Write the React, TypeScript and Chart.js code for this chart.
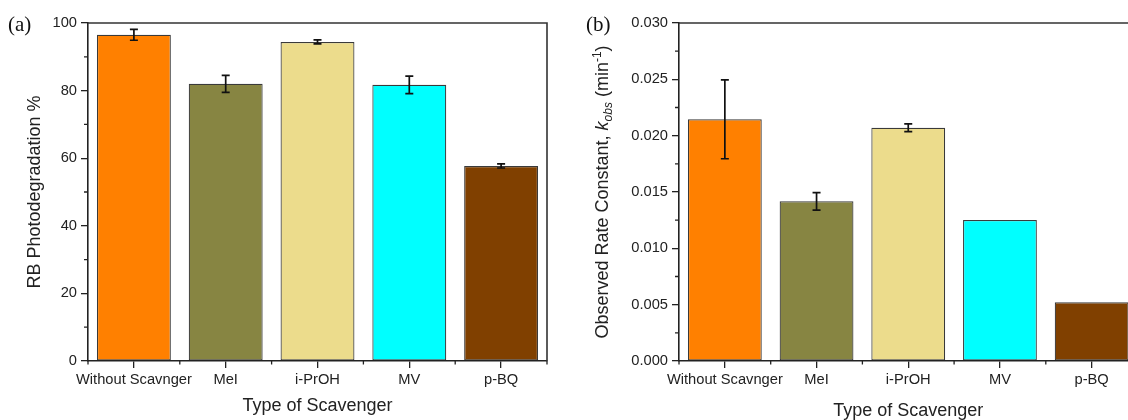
import React, { useEffect, useRef } from 'react';
import { Chart, registerables } from 'chart.js';

Chart.register(...registerables);

// ---------- data ----------
const categories = ['Without Scavnger', 'MeI', 'i-PrOH', 'MV', 'p-BQ'];
const barColors = ['#FF8000', '#878542', '#ECDC8C', '#00FFFF', '#804000'];

const degradation = [96.5, 82.0, 94.4, 81.7, 57.7];
const degradationErr = [1.6, 2.5, 0.6, 2.6, 0.6];
const degradationTicks = [0, 20, 40, 60, 80, 100];
const degradationMinorTicks = [10, 30, 50, 70, 90];

const rateConstant = [0.02145, 0.01417, 0.0207, 0.01251, 0.00521];
const rateConstantErr = [0.0035, 0.00077, 0.00035, 0, 0];
const rateTicks = [0, 0.005, 0.01, 0.015, 0.02, 0.025, 0.03];
const rateMinorTicks = [0.0025, 0.0075, 0.0125, 0.0175, 0.0225, 0.0275];

// ---------- styling ----------
const SANS = "'Liberation Sans', Arial, Helvetica, sans-serif";
const SERIF = "'Liberation Serif', 'Times New Roman', serif";
const INK = '#222';
const H = 420;

type Seg = { t: string; size: number; italic?: boolean; dy?: number };

function segFont(s: Seg) {
  return `${s.italic ? 'italic ' : ''}${s.size}px ${SANS}`;
}

function drawRich(ctx: CanvasRenderingContext2D, segs: Seg[], cx: number, cy: number, rotate: boolean) {
  ctx.save();
  ctx.translate(cx, cy);
  if (rotate) ctx.rotate(-Math.PI / 2);
  ctx.textBaseline = 'alphabetic';
  ctx.textAlign = 'left';
  ctx.fillStyle = INK;
  let total = 0;
  const widths = segs.map((s) => {
    ctx.font = segFont(s);
    const w = ctx.measureText(s.t).width;
    total += w;
    return w;
  });
  let x = -total / 2;
  segs.forEach((s, i) => {
    ctx.font = segFont(s);
    ctx.fillText(s.t, x, 6.45 + (s.dy || 0));
    x += widths[i];
  });
  ctx.restore();
}

interface PanelOpts {
  values: number[];
  err: number[];
  min: number;
  max: number;
  ticks: number[];
  minor: number[];
  fmt: (v: number) => string;
  axisW: number;
  padRight: number;
  letter: string;
  letterX: number;
  yTitle: Seg[];
  yTitleX: number;
  xTitleY: number;
}

function decor(o: PanelOpts) {
  return {
    id: 'panelDecor',
    afterDraw(chart: any) {
      const { ctx, chartArea: a, scales } = chart;
      const xs = scales.x;
      const ys = scales.y;
      ctx.save();
      // frame (top + right)
      ctx.strokeStyle = '#333';
      ctx.lineWidth = 1.6;
      ctx.beginPath();
      ctx.moveTo(a.left, a.top);
      ctx.lineTo(a.right, a.top);
      ctx.lineTo(a.right, a.bottom);
      ctx.stroke();

      // minor ticks
      ctx.strokeStyle = INK;
      ctx.lineWidth = 1.3;
      ctx.beginPath();
      o.minor.forEach((v) => {
        const py = ys.getPixelForValue(v);
        ctx.moveTo(a.left - 4, py);
        ctx.lineTo(a.left, py);
      });
      const step = xs.getPixelForValue(1) - xs.getPixelForValue(0);
      for (let k = 0; k <= categories.length; k++) {
        const px = xs.getPixelForValue(0) - step / 2 + k * step;
        ctx.moveTo(px, a.bottom);
        ctx.lineTo(px, a.bottom + 3.5);
      }
      ctx.stroke();

      // error bars
      const meta = chart.getDatasetMeta(0);
      ctx.strokeStyle = '#111';
      ctx.lineWidth = 1.7;
      ctx.beginPath();
      meta.data.forEach((bar: any, i: number) => {
        const e = o.err[i];
        if (!e) return;
        const top = ys.getPixelForValue(o.values[i] + e);
        const bot = ys.getPixelForValue(o.values[i] - e);
        const cap = 4;
        ctx.moveTo(bar.x, top);
        ctx.lineTo(bar.x, bot);
        ctx.moveTo(bar.x - cap, top);
        ctx.lineTo(bar.x + cap, top);
        ctx.moveTo(bar.x - cap, bot);
        ctx.lineTo(bar.x + cap, bot);
      });
      ctx.stroke();

      // panel letter
      ctx.fillStyle = '#111';
      ctx.font = `21px ${SERIF}`;
      ctx.textAlign = 'left';
      ctx.textBaseline = 'middle';
      ctx.fillText(o.letter, o.letterX, 25);
      ctx.restore();

      // titles
      drawRich(ctx, o.yTitle, o.yTitleX, (a.top + a.bottom) / 2, true);
      drawRich(ctx, [{ t: 'Type of Scavenger', size: 18 }], (a.left + a.right) / 2, o.xTitleY, false);
    },
  };
}

function makeChart(canvas: HTMLCanvasElement, o: PanelOpts) {
  const tickFont = { family: SANS, size: 14.7 };
  return new Chart(canvas, {
    type: 'bar',
    data: {
      labels: categories,
      datasets: [
        {
          data: o.values,
          backgroundColor: barColors,
          borderColor: '#3a3a3a',
          borderWidth: 1.2,
          borderSkipped: false,
          barPercentage: 0.805,
          categoryPercentage: 1,
        },
      ],
    },
    options: {
      responsive: false,
      animation: false,
      devicePixelRatio: 1,
      layout: { padding: { left: 0, right: o.padRight, top: 23, bottom: 0 } },
      plugins: { legend: { display: false }, tooltip: { enabled: false } },
      scales: {
        x: {
          type: 'category',
          offset: true,
          grid: { offset: false, drawOnChartArea: false, tickLength: 7, color: INK, lineWidth: 1.3 },
          border: { color: INK, width: 1.6 },
          ticks: { font: tickFont, color: INK, padding: 3, maxRotation: 0, autoSkip: false },
          afterFit: (s: any) => {
            s.height = H - 361;
          },
        },
        y: {
          type: 'linear',
          min: o.min,
          max: o.max,
          grid: { drawOnChartArea: false, tickLength: 7, color: INK, lineWidth: 1.3 },
          border: { color: INK, width: 1.6 },
          ticks: { font: tickFont, color: INK, padding: 4, callback: (v: any) => o.fmt(Number(v)) },
          afterBuildTicks: (s: any) => {
            s.ticks = o.ticks.map((v) => ({ value: v }));
          },
          afterFit: (s: any) => {
            s.width = o.axisW;
          },
        },
      },
    } as any,
    plugins: [decor(o)],
  });
}

const LEFT_W = 560;
const RIGHT_X = 560;
const RIGHT_W = 590;

export default function App() {
  const leftRef = useRef<HTMLCanvasElement>(null);
  const rightRef = useRef<HTMLCanvasElement>(null);

  useEffect(() => {
    const c1 = makeChart(leftRef.current!, {
      values: degradation,
      err: degradationErr,
      min: 0,
      max: 100,
      ticks: degradationTicks,
      minor: degradationMinorTicks,
      fmt: (v) => String(v),
      axisW: 88,
      padRight: LEFT_W - 547,
      letter: '(a)',
      letterX: 8,
      yTitle: [{ t: 'RB Photodegradation %', size: 18 }],
      yTitleX: 33.5,
      xTitleY: 404.5,
    });
    const c2 = makeChart(rightRef.current!, {
      values: rateConstant,
      err: rateConstantErr,
      min: 0,
      max: 0.03,
      ticks: rateTicks,
      minor: rateMinorTicks,
      fmt: (v) => v.toFixed(3),
      axisW: 679 - RIGHT_X,
      padRight: RIGHT_W - (1137.5 - RIGHT_X),
      letter: '(b)',
      letterX: 586 - RIGHT_X,
      yTitle: [
        { t: 'Observed Rate Constant, ', size: 18 },
        { t: 'k', size: 18, italic: true },
        { t: 'obs', size: 12, italic: true, dy: 4 },
        { t: ' (min', size: 18 },
        { t: '-1', size: 12, dy: -7 },
        { t: ')', size: 18 },
      ],
      yTitleX: 601.5 - RIGHT_X,
      xTitleY: 410,
    });
    return () => {
      c1.destroy();
      c2.destroy();
    };
  }, []);

  return (
    <div
      style={{
        position: 'fixed',
        left: 0,
        top: 0,
        width: 1128,
        height: H,
        overflow: 'hidden',
        background: '#fff',
      }}
    >
      <canvas ref={leftRef} width={LEFT_W} height={H} style={{ position: 'absolute', left: 0, top: 0 }} />
      <canvas ref={rightRef} width={RIGHT_W} height={H} style={{ position: 'absolute', left: RIGHT_X, top: 0 }} />
    </div>
  );
}
